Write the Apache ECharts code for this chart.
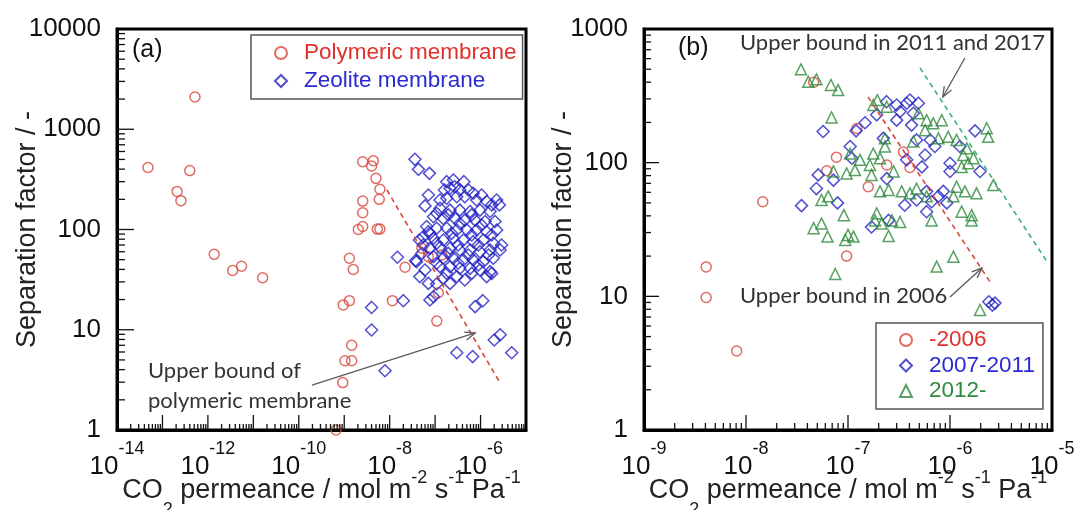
<!DOCTYPE html>
<html>
<head>
<meta charset="utf-8">
<script src="https://cdn.jsdelivr.net/npm/echarts@6/dist/echarts.min.js"></script>
<style>
  html, body { margin: 0; padding: 0; background: #fff; }
  #chart { width: 1077px; height: 510px; }
</style>
</head>
<body>
<div id="chart"></div>
<script>
// ---- Panel (a): CO2 permeance [mol m-2 s-1 Pa-1] vs separation factor ----
const polymeric = [
  [4.8e-14, 415], [5.2e-13, 2100], [4.0e-13, 387], [2.1e-13, 240], [2.55e-13, 194],
  [1.38e-12, 56.5], [3.5e-12, 39], [5.5e-12, 43], [1.6e-11, 33],
  [6.6e-10, 1.0], [9.3e-10, 2.97], [1.04e-9, 4.9], [1.46e-9, 4.9], [1.46e-9, 7.0],
  [9.5e-10, 17.7], [1.3e-9, 19.5], [1.3e-9, 51.6], [1.58e-9, 40],
  [2.04e-9, 100], [2.55e-9, 107], [2.55e-9, 147], [2.55e-9, 192], [2.55e-9, 474],
  [4.37e-9, 485], [4.0e-9, 430], [5.0e-9, 324], [6.1e-9, 252], [5.9e-9, 200],
  [5.35e-9, 101], [6.1e-9, 101],
  [1.15e-8, 19.5], [2.18e-8, 42], [5.1e-8, 65], [7.1e-8, 53.6], [1.4e-7, 55.7],
  [1.18e-7, 23.4], [1.09e-7, 12.2]
];
const zeolite = [
  [3.6e-8, 501], [4.3e-8, 398], [7.5e-8, 363], [7.1e-8, 221], [6.0e-8, 172],
  [4.5e-8, 78.5], [5.5e-8, 70], [1.48e-8, 52.8], [3.7e-8, 48.9], [4.6e-8, 33.9],
  [7.1e-8, 29], [1.08e-7, 28.6], [9.2e-8, 21.4], [7.7e-8, 19.8], [4.0e-9, 16.7],
  [2.0e-8, 19.5], [4.0e-9, 9.95], [7.6e-7, 17], [1.12e-6, 19.5],
  [7.9e-9, 3.9], [3.0e-7, 5.9], [6.7e-7, 5.4], [2.0e-6, 7.9], [2.7e-6, 8.9], [4.85e-6, 5.9],
  [1.8e-7, 300], [2.52e-7, 312], [4.3e-7, 300], [2.13e-7, 258], [3.5e-7, 248],
  [5.4e-7, 248], [6.9e-7, 230], [3.0e-7, 212], [1.8e-7, 205], [1.28e-7, 197],
  [8.2e-7, 197], [1.36e-6, 190], [2.26e-6, 197], [2.6e-6, 176],
  [1.28e-7, 163], [2.13e-7, 156], [3.5e-7, 156], [5.9e-7, 151], [9.7e-7, 156], [1.62e-6, 151],
  [9.2e-8, 134], [1.52e-7, 129], [2.74e-7, 129], [4.5e-7, 124], [7.6e-7, 124],
  [1.26e-6, 120], [2.08e-6, 120],
  [6.5e-8, 107], [1.08e-7, 103], [1.8e-7, 103], [3.0e-7, 98.9], [5.0e-7, 98.9],
  [8.2e-7, 98.9], [1.36e-6, 95], [2.26e-6, 98.9],
  [5.5e-8, 84.7], [9.2e-8, 81.6], [1.52e-7, 78.5], [2.52e-7, 81.6], [4.2e-7, 78.5],
  [6.9e-7, 75.6], [1.15e-6, 78.5], [1.91e-6, 72.8], [2.9e-6, 70],
  [7.7e-8, 64.9], [1.28e-7, 66], [2.13e-7, 64.9], [3.5e-7, 62.5], [5.9e-7, 62.5],
  [9.7e-7, 60.1], [1.62e-6, 62.5], [2.7e-6, 62.5],
  [9.2e-8, 53.6], [1.52e-7, 51.6], [2.52e-7, 51.6], [4.2e-7, 49.6], [6.9e-7, 49.6],
  [1.15e-6, 47.8], [1.91e-6, 51.6],
  [1.28e-7, 42.6], [2.13e-7, 42.6], [3.5e-7, 41], [5.9e-7, 41], [9.7e-7, 39.5], [1.62e-6, 38],
  [1.8e-7, 36.5], [3.0e-7, 33.9], [6.4e-7, 36.5], [1.76e-6, 36.5], [2.13e-7, 29],
  [1.6e-7, 248], [2.7e-7, 267], [4.5e-7, 212], [1.05e-6, 221], [1.76e-6, 176],
  [1.08e-7, 145], [1.95e-7, 140], [6.4e-7, 140], [3.5e-7, 115], [1.05e-6, 111],
  [7.7e-8, 91.6], [2.3e-7, 91.6], [6.4e-7, 88.2], [1.76e-6, 88.2],
  [1.08e-7, 72.8], [3.2e-7, 70], [8.9e-7, 70],
  [5.1e-8, 57.8], [1.95e-7, 57.8], [5.4e-7, 55.7], [1.5e-6, 55.7],
  [1.08e-7, 46], [3.2e-7, 46], [8.9e-7, 44.3],
  [1.52e-7, 32.6], [4.5e-7, 31.4], [1.36e-6, 33.9], [6.0e-8, 39.5], [3.9e-8, 47.8], [7.1e-8, 95]
];
const boundPolymeric = [[8.7e-9, 248], [2.7e-6, 2.94]];
const arrowPolymeric = [[1.95e-10, 2.81], [7.6e-7, 9.3]];

// ---- Panel (b): zeolite membranes grouped by publication period ----
const upTo2006 = [
  [4.07e-9, 16.6], [4.07e-9, 9.8], [8.1e-9, 3.9], [1.46e-8, 51], [4.6e-8, 400],
  [6.2e-8, 87], [7.7e-8, 110], [9.7e-8, 20], [1.22e-7, 180], [1.58e-7, 66],
  [2.4e-7, 96], [3.5e-7, 120], [4.05e-7, 92]
];
const from2007to2011 = [
  [3.5e-8, 47.7], [5.1e-8, 81], [4.9e-8, 64], [5.7e-8, 171], [7.2e-8, 74], [7.9e-8, 50],
  [1.05e-7, 132], [1.09e-7, 108], [1.2e-7, 173], [1.47e-7, 199], [1.91e-7, 228],
  [2.39e-7, 286], [3.0e-7, 270], [3.76e-7, 278], [4.05e-7, 294], [4.9e-7, 278],
  [3.24e-7, 241], [4.37e-7, 234], [3.0e-7, 208], [4.2e-7, 191], [2.22e-7, 152],
  [4.7e-7, 148], [6.4e-7, 148], [7.1e-7, 132], [5.7e-7, 114], [3.76e-7, 105],
  [5.3e-7, 93], [1.0e-6, 99], [1.0e-6, 86], [1.25e-6, 132], [1.97e-6, 86], [1.76e-6, 173],
  [8.6e-7, 61], [7.7e-7, 56], [9.3e-7, 50], [6.6e-7, 51], [5.9e-7, 43], [4.7e-7, 52.6],
  [3.6e-7, 48], [1.7e-7, 33], [2.5e-7, 37], [2.4e-7, 76], [5.9e-7, 61],
  [2.4e-6, 9.1], [2.76e-6, 8.9], [2.6e-6, 8.6]
];
const from2012 = [
  [3.46e-8, 499], [4.08e-8, 403], [4.9e-8, 420], [6.8e-8, 381], [8.0e-8, 349], [6.9e-8, 218],
  [1.94e-7, 294], [2.4e-7, 262], [1.77e-7, 270], [4.9e-7, 234], [5.9e-7, 208], [6.85e-7, 197],
  [8.3e-7, 208], [5.7e-7, 175], [7.7e-7, 152], [9.6e-7, 156], [1.16e-6, 148], [4.37e-7, 144],
  [2.3e-7, 152], [2.3e-7, 132], [1.77e-7, 117], [2.06e-7, 108], [1.64e-7, 96], [1.31e-7, 105],
  [1.05e-7, 117], [1.17e-7, 88], [9.7e-8, 83], [7.2e-8, 86], [1.7e-7, 81], [2.8e-7, 86],
  [1.46e-6, 128], [1.35e-6, 114], [1.7e-6, 108], [1.51e-6, 99], [1.3e-6, 93],
  [2.29e-6, 181], [2.37e-6, 156], [2.66e-6, 68], [1.16e-6, 66], [1.4e-6, 61], [1.82e-6, 59],
  [1.08e-6, 56], [4.7e-7, 64], [4.05e-7, 59], [3.36e-7, 61], [5.9e-7, 56], [2.06e-7, 61],
  [2.5e-7, 62.5], [2.7e-7, 37], [1.91e-7, 41.8], [1.84e-7, 37], [2.14e-7, 35], [3.24e-7, 36],
  [6.6e-7, 37], [1.3e-6, 43], [1.63e-6, 40.5], [1.63e-6, 37],
  [6.4e-8, 56], [5.5e-8, 52.6], [4.6e-8, 32.3], [5.5e-8, 35], [6.3e-8, 28], [9.1e-8, 40.5],
  [9.4e-8, 26.4], [1.0e-7, 28.8], [1.13e-7, 28], [2.5e-7, 28.3],
  [1.08e-6, 19.8], [7.5e-8, 14.7], [7.4e-7, 16.7], [1.97e-6, 7.9]
];
const bound2006 = [[1.57e-7, 310], [2.58e-6, 12.2]];
const bound2017 = [[5.08e-7, 511], [9.1e-6, 17.8]];
const arrow2017 = [[1.4e-6, 607], [8.5e-7, 310]];
const arrow2006 = [[1.0e-6, 9.9], [2.06e-6, 16.3]];

// ---- Axis ranges ----
const xRangeA = [1e-14, 1e-5];
const yRangeA = [1, 10000];
const xRangeB = [1e-9, 1e-5];
const yRangeB = [1, 1000];

const RED = '#d8473c', BLUE = '#2424c4', GREEN = '#2f8a3c', TEAL = '#3fae84';
const SANS = '"Liberation Sans", Arial, sans-serif';
const NOTE = 'Lato, "Liberation Sans", sans-serif';

const chart = echarts.init(document.getElementById('chart'), null, { renderer: 'canvas' });

function expLabel(showOdd) {
  return function (v) {
    const e = Math.round(Math.log10(v));
    if (!showOdd && e % 2 !== 0) return '';
    return '{b|10}{s|' + e + '}';
  };
}
const expRich = {
  b: { fontSize: 26, fontFamily: SANS, color: '#111', lineHeight: 26, padding: [14, 0, 0, 0] },
  s: { fontSize: 18, fontFamily: SANS, color: '#111', lineHeight: 18, padding: [0, 0, 22, 0] }
};
const nameRich = {
  n: { fontSize: 27, fontFamily: SANS, color: '#222', lineHeight: 27, padding: [10, 0, 17, 0] },
  sup: { fontSize: 18, fontFamily: SANS, color: '#222', lineHeight: 18, padding: [2, 0, 34, 0] },
  sub: { fontSize: 18, fontFamily: SANS, color: '#222', lineHeight: 18, padding: [34, 0, 2, 0] }
};
const xName = '{n|CO}{sub|2}{n| permeance / mol m}{sup|-2}{n| s}{sup|-1}{n| Pa}{sup|-1}';

function xAxis(grid, range, showOdd) {
  return {
    type: 'log', gridIndex: grid, logBase: 10, min: range[0], max: range[1], interval: 1,
    name: xName, nameLocation: 'middle', nameGap: 51, nameMoveOverlap: false,
    nameTextStyle: { rich: nameRich },
    axisLine: { show: true, lineStyle: { color: '#000', width: 3 } },
    axisTick: { show: false },
    axisLabel: { margin: 17, formatter: expLabel(showOdd), rich: expRich },
    splitLine: { show: false }, minorTick: { show: false }
  };
}
function yAxis(grid, range, gap) {
  return {
    type: 'log', gridIndex: grid, logBase: 10, min: range[0], max: range[1], interval: 1,
    name: 'Separation factor / -', nameLocation: 'middle', nameGap: gap, nameMoveOverlap: false,
    nameRotate: 90,
    nameTextStyle: { fontSize: 27, fontFamily: SANS, color: '#222' },
    axisLine: { show: true, lineStyle: { color: '#000', width: 3 } },
    axisTick: { show: false },
    axisLabel: {
      margin: 16, fontSize: 26, fontFamily: SANS, color: '#111',
      formatter: v => String(Math.round(v))
    },
    splitLine: { show: false }, minorTick: { show: false }
  };
}

// Inward log ticks: long marks at decades, short marks at 2..9 in each decade.
// Every item is a point strictly inside the plot: [x, y, length, side]
// (side 1 = bottom axis, side 2 = left axis). The mark is placed along its axis
// with api.coord and anchored to the grid edge.
function tickItems(xr, yr, xMajor, xMinor, yMajor, yMinor) {
  const items = [];
  const xMid = Math.sqrt(xr[0] * xr[1]), yMid = Math.sqrt(yr[0] * yr[1]);
  const x0 = Math.round(Math.log10(xr[0])), x1 = Math.round(Math.log10(xr[1]));
  for (let e = x0; e < x1; e++) {
    for (let k = 1; k <= 9; k++) {
      if (e === x0 && k === 1) continue;
      items.push([k * Math.pow(10, e), yMid, k === 1 ? xMajor : xMinor, 1]);
    }
  }
  const y0 = Math.round(Math.log10(yr[0])), y1 = Math.round(Math.log10(yr[1]));
  for (let e = y0; e < y1; e++) {
    for (let k = 1; k <= 9; k++) {
      if (e === y0 && k === 1) continue;
      items.push([xMid, k * Math.pow(10, e), k === 1 ? yMajor : yMinor, 2]);
    }
  }
  return items;
}
function ticks(idx, items) {
  const w = 1.3;
  return {
    type: 'custom', xAxisIndex: idx, yAxisIndex: idx, silent: true, z: 5, clip: false,
    data: items,
    renderItem(params, api) {
      const p = api.coord([api.value(0), api.value(1)]);
      const len = api.value(2), side = api.value(3);
      const cs = params.coordSys;
      if (side === 1) {
        const by = cs.y + cs.height;
        return { type: 'rect', shape: { x: p[0] - w / 2, y: by - len, width: w, height: len }, style: { fill: '#111' } };
      }
      return { type: 'rect', shape: { x: cs.x, y: p[1] - w / 2, width: len, height: w }, style: { fill: '#111' } };
    }
  };
}

// Annotation arrow with an open head, anchored in data coordinates.
function arrow(idx, pts) {
  return {
    type: 'custom', xAxisIndex: idx, yAxisIndex: idx, silent: true, z: 6, clip: false,
    data: [[pts[0][0], pts[0][1], pts[1][0], pts[1][1]]],
    renderItem(params, api) {
      const a = api.coord([api.value(0), api.value(1)]);
      const b = api.coord([api.value(2), api.value(3)]);
      const ang = Math.atan2(b[1] - a[1], b[0] - a[0]);
      const L = 11, w = 0.38;
      const h1 = [b[0] - L * Math.cos(ang - w), b[1] - L * Math.sin(ang - w)];
      const h2 = [b[0] - L * Math.cos(ang + w), b[1] - L * Math.sin(ang + w)];
      return {
        type: 'group', children: [
          { type: 'line', shape: { x1: a[0], y1: a[1], x2: b[0], y2: b[1] }, style: { stroke: '#5a5a5a', lineWidth: 1.3 } },
          { type: 'polyline', shape: { points: [h1, b, h2] }, style: { stroke: '#5a5a5a', lineWidth: 1.3, fill: null } }
        ]
      };
    }
  };
}

function scatter(name, idx, data, symbol, size, color) {
  return {
    name, type: 'scatter', xAxisIndex: idx, yAxisIndex: idx, data,
    symbol, symbolSize: size, z: 3,
    itemStyle: { color: 'rgba(0,0,0,0)', borderColor: color, borderWidth: 1.5 },
    emphasis: { disabled: true }
  };
}
function dashed(idx, data, color) {
  return {
    type: 'line', xAxisIndex: idx, yAxisIndex: idx, data, symbol: 'none', silent: true, z: 4,
    lineStyle: { color, width: 1.6, type: [5, 4] }
  };
}

const legendBase = {
  orient: 'vertical', itemWidth: 12, itemHeight: 12, selectedMode: false,
  borderColor: '#555', borderWidth: 1.5, borderRadius: 0,
  textStyle: { fontFamily: SANS, fontSize: 22.5, lineHeight: 24, padding: [0, 0, 0, 12] }
};

chart.setOption({
  animation: false,
  backgroundColor: '#fff',
  grid: [
    { left: 117, top: 29, width: 409, height: 401, show: true, borderColor: '#000', borderWidth: 3, outerBoundsMode: 'none', containLabel: false },
    { left: 644, top: 29, width: 408, height: 401, show: true, borderColor: '#000', borderWidth: 3, outerBoundsMode: 'none', containLabel: false }
  ],
  xAxis: [xAxis(0, xRangeA, false), xAxis(1, xRangeB, true)],
  yAxis: [yAxis(0, yRangeA, 76), yAxis(1, yRangeB, 67)],
  legend: [
    Object.assign({}, legendBase, {
      left: 251, top: 35, itemGap: 4, padding: [6, 6, 6, 23],
      data: [
        { name: 'Polymeric membrane', textStyle: { color: '#e0302c' } },
        { name: 'Zeolite membrane', textStyle: { color: '#2a2ad2' } }
      ]
    }),
    Object.assign({}, legendBase, {
      left: 876, top: 323, itemGap: 1.5, padding: [5, 8, 6, 23],
      data: [
        { name: '-2006', textStyle: { color: '#e0302c' } },
        { name: '2007-2011', textStyle: { color: '#2a2ad2' } },
        { name: '2012-', textStyle: { color: '#2f8a3c' } }
      ]
    })
  ],
  graphic: [
    { type: 'text', left: 132, top: 38, style: { text: '(a)', font: '25px ' + SANS, fill: '#111' } },
    { type: 'text', left: 678, top: 36, style: { text: '(b)', font: '25px ' + SANS, fill: '#111' } },
    { type: 'text', left: 148, top: 356, style: { text: 'Upper bound of\npolymeric membrane', font: '22px ' + NOTE, fill: '#333', lineHeight: 30 } },
    { type: 'text', left: 740, top: 32, style: { text: 'Upper bound in 2011 and 2017', font: '22px ' + NOTE, fill: '#333' } },
    { type: 'text', left: 740, top: 285, style: { text: 'Upper bound in 2006', font: '22px ' + NOTE, fill: '#333' } }
  ],
  series: [
    ticks(0, tickItems(xRangeA, yRangeA, 15, 6, 17, 8)),
    ticks(1, tickItems(xRangeB, yRangeB, 15, 7, 15, 7)),
    scatter('Polymeric membrane', 0, polymeric, 'circle', 10, RED),
    scatter('Zeolite membrane', 0, zeolite, 'diamond', 12, BLUE),
    dashed(0, boundPolymeric, RED),
    arrow(0, arrowPolymeric),
    scatter('-2006', 1, upTo2006, 'circle', 10, RED),
    scatter('2007-2011', 1, from2007to2011, 'diamond', 12, BLUE),
    scatter('2012-', 1, from2012, 'triangle', 11, GREEN),
    dashed(1, bound2006, RED),
    dashed(1, bound2017, TEAL),
    arrow(1, arrow2017),
    arrow(1, arrow2006)
  ]
});
</script>
</body>
</html>
